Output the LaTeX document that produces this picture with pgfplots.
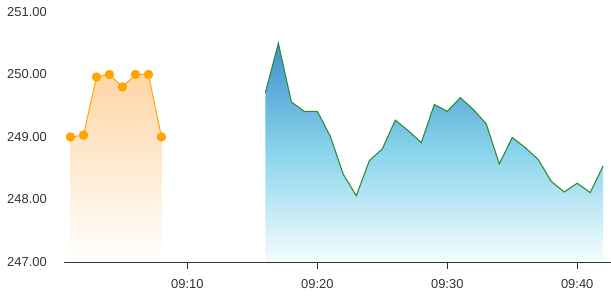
\documentclass[border=0pt]{standalone}
\usepackage{fontspec}
\setmainfont{Liberation Sans}
\usepackage{pgfplots}
\pgfplotsset{compat=1.18}
\definecolor{orangeline}{HTML}{FFA500}
\definecolor{greenline}{HTML}{2E8B3A}
\definecolor{bluetop}{HTML}{3F8FCC}
\definecolor{bluemid}{HTML}{8AD5EC}
\definecolor{bluebot}{HTML}{F4FDFE}
\definecolor{orangetop}{HTML}{FFD6A6}
\definecolor{labelgray}{HTML}{333333}
\begin{document}
\begin{tikzpicture}
\begin{axis}[name=ax, scale only axis, width=547bp, height=250bp,
  xmin=0.5, xmax=42.6, ymin=247, ymax=251,
  axis lines*=left,
  y axis line style={draw=none},
  x axis line style={draw=black!80, line width=0.8bp},
  xtick={10,20,30,40}, xticklabels={09:10,09:20,09:30,09:40},
  ytick={247,248,249,250,251},
  tick align=outside, major tick length=7bp,
  xtick style={draw=black!80, line width=0.8bp},
  ytick style={draw=none},
  /pgf/number format/assume math mode=true,
  yticklabel style={/pgf/number format/fixed, /pgf/number format/fixed zerofill, /pgf/number format/precision=2, anchor=west, inner sep=0pt, xshift=-50bp},
  ticklabel style={font=\fontsize{13}{15}\selectfont, text=labelgray},
  xticklabel style={yshift=-7bp},
]
% orange area
\addplot[draw=none, top color=orangetop, bottom color=white, forget plot] coordinates {
(1,247) (1,249.00) (2,249.03) (3,249.96) (4,250.00) (5,249.80) (6,250.00) (7,250.00) (8,249.00) (8,247)
} -- cycle;
\addplot[color=orangeline, line width=1bp, mark=*, mark size=4.2bp, mark options={fill=orangeline, draw=orangeline}] coordinates {
(1,249.00) (2,249.03) (3,249.96) (4,250.00) (5,249.80) (6,250.00) (7,250.00) (8,249.00)
};
% blue area
\addplot[draw=none, top color=bluetop, bottom color=bluebot, middle color=bluemid, forget plot] coordinates {
(16,247)
(16,249.71) (17,250.50) (18,249.56) (19,249.41) (20,249.41) (21,249.01) (22,248.40) (23,248.06)
(24,248.62) (25,248.81) (26,249.27) (27,249.10) (28,248.91) (29,249.52) (30,249.41) (31,249.63)
(32,249.44) (33,249.21) (34,248.57) (35,248.99) (36,248.83) (37,248.64) (38,248.29) (39,248.12)
(40,248.26) (41,248.11) (42,248.54)
(42,247)
} -- cycle;
\addplot[color=greenline, line width=1.1bp, mark=none] coordinates {
(16,249.71) (17,250.50) (18,249.56) (19,249.41) (20,249.41) (21,249.01) (22,248.40) (23,248.06)
(24,248.62) (25,248.81) (26,249.27) (27,249.10) (28,248.91) (29,249.52) (30,249.41) (31,249.63)
(32,249.44) (33,249.21) (34,248.57) (35,248.99) (36,248.83) (37,248.64) (38,248.29) (39,248.12)
(40,248.26) (41,248.11) (42,248.54)
};
\end{axis}
\pgfresetboundingbox
\path (ax.south west) ++(-64bp,-38bp) rectangle ([shift={(0bp,12bp)}]ax.north east);
\end{tikzpicture}
\end{document}
